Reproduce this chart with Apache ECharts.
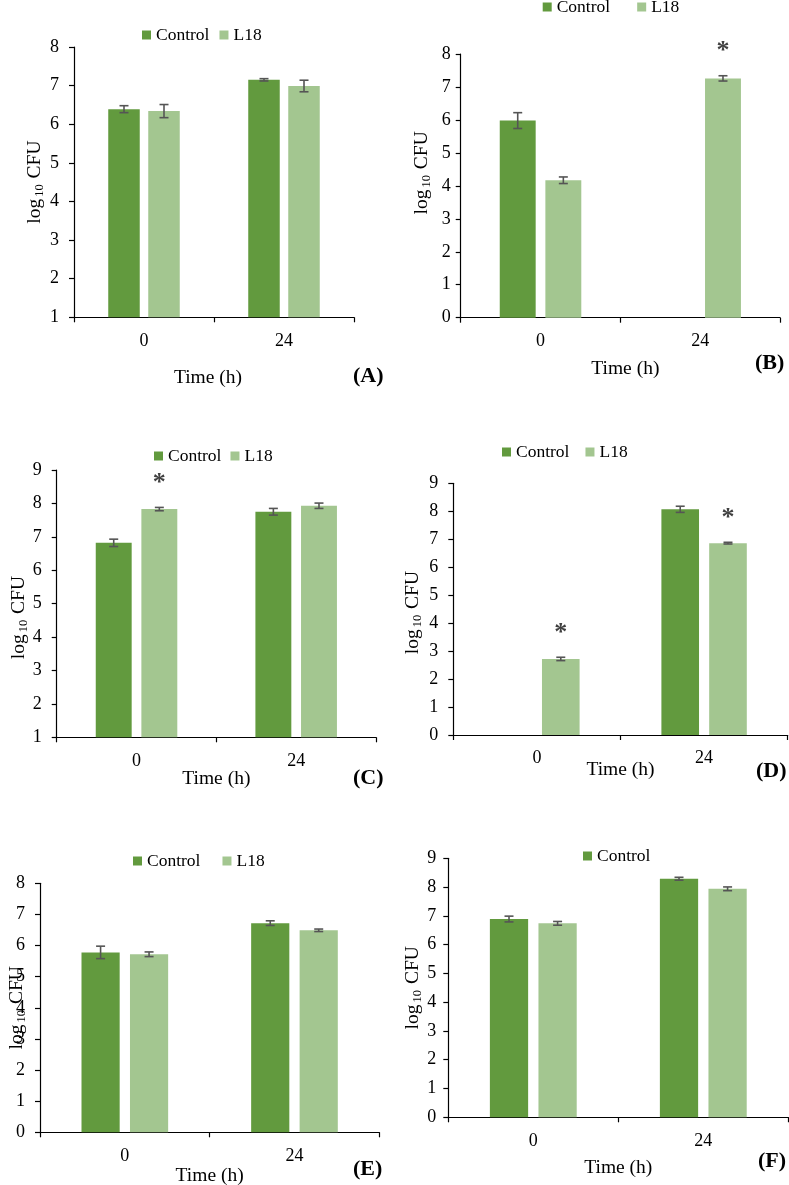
<!DOCTYPE html>
<html><head><meta charset="utf-8">
<script src="https://cdn.jsdelivr.net/npm/echarts@6/dist/echarts.min.js"></script>
<style>html,body{margin:0;padding:0;background:#fff}#c{width:789px;height:1185px}</style>
</head><body><div id="c"></div>
<script>
// ---- data ----
const categories = ['0', '24'];
const seriesNames = ['Control', 'L18'];
const panelLetters = ['(A)', '(B)', '(C)', '(D)', '(E)', '(F)'];
const xTitle = 'Time (h)';

const controlA = [6.39, 7.15], controlErrA = [0.09, 0.03];
const l18A = [6.34, 6.99], l18ErrA = [0.17, 0.15], l18SigA = [0, 0];

const controlB = [5.98, null], controlErrB = [0.24, null];
const l18B = [4.17, 7.26], l18ErrB = [0.10, 0.08], l18SigB = [0, 1];

const controlC = [6.82, 7.75], controlErrC = [0.11, 0.10];
const l18C = [7.83, 7.93], l18ErrC = [0.05, 0.08], l18SigC = [1, 0];

const controlD = [null, 8.07], controlErrD = [null, 0.11];
const l18D = [2.72, 6.86], l18ErrD = [0.06, 0.03], l18SigD = [1, 1];

const controlE = [5.78, 6.72], controlErrE = [0.20, 0.075];
const l18E = [5.72, 6.49], l18ErrE = [0.075, 0.04], l18SigE = [0, 0];

const controlF = [6.89, 8.29], controlErrF = [0.10, 0.05];
const l18F = [6.74, 7.94], l18ErrF = [0.065, 0.065], l18SigF = [0, 0];

const yRangeA = [1, 8], yRangeB = [0, 8], yRangeC = [1, 9], yRangeD = [0, 9], yRangeE = [0, 8], yRangeF = [0, 9];
const legendA = ['Control', 'L18'], legendB = ['Control', 'L18'], legendC = ['Control', 'L18'];
const legendD = ['Control', 'L18'], legendE = ['Control', 'L18'], legendF = ['Control'];

// ---- layout / style ----
const FONT = 'Liberation Serif, Times New Roman, serif';
const C_DARK = '#629a3e', C_LIGHT = '#a3c690', C_ERR = '#555555';
const BAR_PCT = 0.225, GAP_PCT = 0.27;

const panels = [
  {grid:{left:74, top:47, width:280, height:270.3}, yr:yRangeA, c:controlA, ce:controlErrA, l:l18A, le:l18ErrA, ls:l18SigA,
   legend:{left:142, top:26, itemGap:10, data:legendA}, xGap:51, xPad:[0,12,0,0], yGap:28, yPad:[0,0,0,0], yLM:15, letter:{left:353, top:365}},
  {grid:{left:460.7, top:54, width:319.3, height:263.7}, yr:yRangeB, c:controlB, ce:controlErrB, l:l18B, le:l18ErrB, ls:l18SigB,
   legend:{left:542.7, top:-2, itemGap:27, data:legendB}, xGap:41, xPad:[0,0,0,10], yGap:27, yPad:[0,0,0,26], yLM:10, letter:{left:755, top:352}},
  {grid:{left:56.7, top:470, width:319.3, height:267.3}, yr:yRangeC, c:controlC, ce:controlErrC, l:l18C, le:l18ErrC, ls:l18SigC,
   legend:{left:154, top:447, itemGap:9, data:legendC}, xGap:32, xPad:[0,0,0,0], yGap:26, yPad:[0,28,0,0], yLM:15, letter:{left:353, top:767}},
  {grid:{left:453.3, top:483.3, width:334.4, height:251.7}, yr:yRangeD, c:controlD, ce:controlErrD, l:l18D, le:l18ErrD, ls:l18SigD,
   legend:{left:502, top:443, itemGap:16, data:legendD}, xGap:25, xPad:[0,0,0,0], yGap:29, yPad:[0,7,0,0], yLM:15, letter:{left:756, top:760}},
  {grid:{left:40, top:883.3, width:339.3, height:249}, yr:yRangeE, c:controlE, ce:controlErrE, l:l18E, le:l18ErrE, ls:l18SigE,
   legend:{left:133, top:852, itemGap:22, data:legendE}, xGap:34, xPad:[0,0,0,0], yGap:12, yPad:[0,0,0,0], yLM:15, letter:{left:353, top:1158}},
  {grid:{left:448.3, top:858.3, width:340, height:259}, yr:yRangeF, c:controlF, ce:controlErrF, l:l18F, le:l18ErrF, ls:l18SigF,
   legend:{left:583, top:847, itemGap:20, data:legendF}, xGap:41, xPad:[0,0,0,0], yGap:24, yPad:[0,0,0,0], yLM:12, letter:{left:758, top:1150}}
];

function errRender(groupIndex) {
  return function (params, api) {
    const cat = api.value(0), v = api.value(1), e = api.value(2), sig = api.value(3);
    const band = api.size([1, 0])[0];
    const w = band * BAR_PCT, g = w * GAP_PCT;
    const off = -(2 * w + g) / 2 + w / 2 + groupIndex * (w + g);
    const top = api.coord([cat, v + e]);
    const bot = api.coord([cat, v - e]);
    const x = top[0] + off, cap = 4.5;
    const st = {stroke: C_ERR, lineWidth: 1.6};
    const children = [
      {type: 'line', shape: {x1: x, y1: top[1], x2: x, y2: bot[1]}, style: st},
      {type: 'line', shape: {x1: x - cap, y1: top[1], x2: x + cap, y2: top[1]}, style: st},
      {type: 'line', shape: {x1: x - cap, y1: bot[1], x2: x + cap, y2: bot[1]}, style: st}
    ];
    if (sig) {
      children.push({type: 'text', x: x, y: top[1] - 24,
        style: {text: '*', fontSize: 26, fontWeight: 'bold', fontFamily: FONT, fill: '#404040', align: 'center', verticalAlign: 'middle'}});
    }
    return {type: 'group', children: children};
  };
}

function errData(vals, errs, sigs) {
  const out = [];
  vals.forEach((v, i) => { if (v != null) out.push([i, v, errs[i] || 0, sigs ? sigs[i] : 0]); });
  return out;
}

const option = {
  animation: false,
  backgroundColor: '#fff',
  title: panels.map((p, i) => ({text: panelLetters[i], left: p.letter.left, top: p.letter.top, padding: 0,
    textStyle: {fontFamily: FONT, fontSize: 22, fontWeight: 'bold', color: '#000'}})),
  legend: panels.map(p => ({left: p.legend.left, top: p.legend.top, padding: 0, itemGap: p.legend.itemGap,
    itemWidth: 9, itemHeight: 9, icon: 'rect', selectedMode: false, data: p.legend.data,
    itemStyle: {borderWidth: 0},
    textStyle: {fontFamily: FONT, fontSize: 17.5, color: '#000'}})),
  grid: panels.map(p => Object.assign({containLabel: false, outerBoundsMode: 'none'}, p.grid)),
  xAxis: panels.map((p, i) => ({type: 'category', gridIndex: i, data: categories,
    name: xTitle, nameLocation: 'middle', nameGap: p.xGap, nameMoveOverlap: false,
    nameTextStyle: {fontFamily: FONT, fontSize: 19.5, color: '#000', padding: p.xPad},
    axisLine: {show: true, lineStyle: {color: '#000', width: 1.2}},
    axisTick: {show: true, length: 5, lineStyle: {color: '#000', width: 1.2}},
    axisLabel: {fontFamily: FONT, fontSize: 18, color: '#000', margin: 14.5},
    splitLine: {show: false}})),
  yAxis: panels.map((p, i) => ({type: 'value', gridIndex: i, min: p.yr[0], max: p.yr[1], interval: 1,
    name: '{a|log}{b|10}{a| CFU}', nameLocation: 'middle', nameGap: p.yGap, nameRotate: 90, nameMoveOverlap: false,
    nameTextStyle: {fontFamily: FONT, fontSize: 19.5, color: '#000', padding: p.yPad,
      rich: {a: {fontFamily: FONT, fontSize: 19.5, color: '#000'},
             b: {fontFamily: FONT, fontSize: 12.5, color: '#000', padding: [10, 1, 0, 2]}}},
    axisLine: {show: true, lineStyle: {color: '#000', width: 1.2}},
    axisTick: {show: true, length: 5, inside: false, lineStyle: {color: '#000', width: 1.2}},
    axisLabel: {fontFamily: FONT, fontSize: 18, color: '#000', margin: p.yLM},
    splitLine: {show: false}})),
  series: []
};

panels.forEach((p, i) => {
  option.series.push({name: seriesNames[0], type: 'bar', xAxisIndex: i, yAxisIndex: i, data: p.c,
    barWidth: (BAR_PCT * 100) + '%', barGap: (GAP_PCT * 100) + '%', clip: true,
    itemStyle: {color: C_DARK}, emphasis: {disabled: true}});
  option.series.push({name: seriesNames[1], type: 'bar', xAxisIndex: i, yAxisIndex: i, data: p.l,
    barWidth: (BAR_PCT * 100) + '%', barGap: (GAP_PCT * 100) + '%', clip: true,
    itemStyle: {color: C_LIGHT}, emphasis: {disabled: true}});
  option.series.push({type: 'custom', name: 'err-c-' + i, xAxisIndex: i, yAxisIndex: i, renderItem: errRender(0),
    data: errData(p.c, p.ce, null), z: 5, clip: false, silent: true});
  option.series.push({type: 'custom', name: 'err-l-' + i, xAxisIndex: i, yAxisIndex: i, renderItem: errRender(1),
    data: errData(p.l, p.le, p.ls), z: 5, clip: false, silent: true});
});

const chart = echarts.init(document.getElementById('c'), null, {renderer: 'canvas'});
chart.setOption(option);
</script>
</body></html>
